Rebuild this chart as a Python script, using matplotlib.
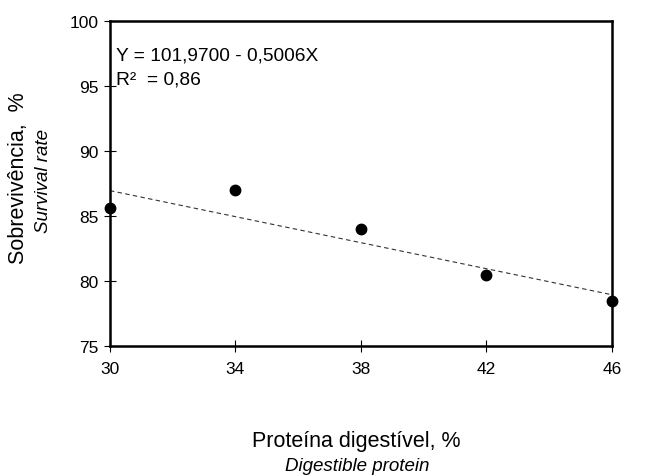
import matplotlib
matplotlib.use("Agg")
import matplotlib.pyplot as plt
import numpy as np

plt.rcParams['font.family'] = ['Liberation Sans', 'DejaVu Sans']

# data
protein = [30, 34, 38, 42, 46]
survival = [85.6, 87.0, 84.0, 80.5, 78.5]
# fitted line as printed on the chart
intercept = 101.97
slope = -0.5006
eq_text = "Y = 101,9700 - 0,5006X"
r2_text = "R²  = 0,86"

fig = plt.figure(figsize=(6.45, 4.77), dpi=100)
ax = fig.add_axes([0.1705, 0.2725, 0.7783, 0.6814])

xfit = np.array([protein[0], protein[-1]])
ax.plot(xfit, intercept + slope * xfit, ls=(0, (4, 3)), color='#333333', lw=0.8)
ax.plot(protein, survival, 'o', color='black', ms=7.5, clip_on=False, zorder=5)

ax.set_xlim(30, 46)
ax.set_ylim(75, 100)
ax.set_xticks([30, 34, 38, 42, 46])
ax.set_yticks([75, 80, 85, 90, 95, 100])

for s in ax.spines.values():
    s.set_linewidth(1.8)
ax.tick_params(direction='inout', length=9, width=0.8, labelsize=12.5, pad=4)
ax.tick_params(axis='x', pad=6)

ax.text(0.012, 0.88, eq_text, transform=ax.transAxes, fontsize=13.8, va='baseline')
ax.text(0.012, 0.809, r2_text, transform=ax.transAxes, fontsize=13.8, va='baseline')

# two-line axis titles (portuguese + english italic)
fig.text(0.553, 0.063, "Proteína digestível, %", ha='center', va='baseline', fontsize=15.5)
fig.text(0.554, 0.012, "Digestible protein", ha='center', va='baseline', fontsize=13.5, style='italic')
fig.text(0.029, 0.627, "Sobrevivência,  %", ha='center', va='center', fontsize=15.5, rotation=90)
fig.text(0.067, 0.62, "Survival rate", ha='center', va='center', fontsize=13.5, style='italic', rotation=90)

fig.savefig("out.png", dpi=100)
